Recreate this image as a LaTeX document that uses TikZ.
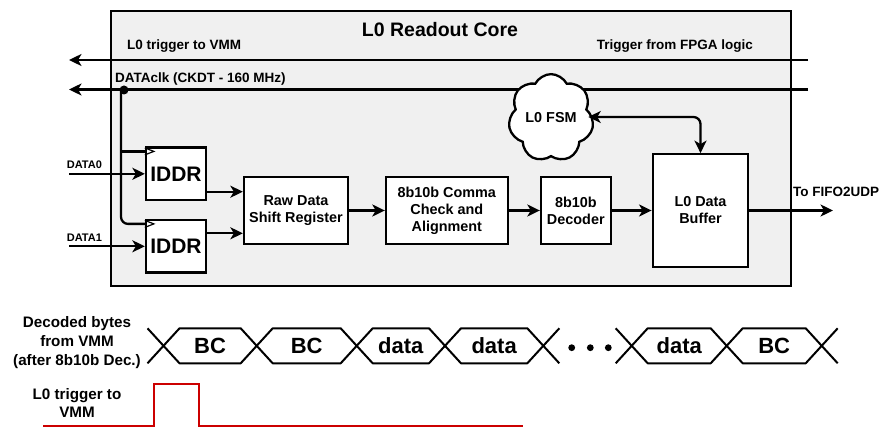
\documentclass[tikz,border=0pt]{standalone}
\usepackage{fontspec}
\setmainfont{Liberation Sans}
\usetikzlibrary{arrows.meta,shapes.symbols,calc}
\definecolor{corefill}{RGB}{240,240,240}
\definecolor{trigred}{RGB}{204,0,0}
\newcommand{\bsz}[2]{\fontsize{#1}{#2}\selectfont\bfseries}

\begin{document}
\begin{tikzpicture}[x=1pt,y=-1pt,
  wire/.style={line width=2.3pt},
  tip/.style={Stealth[length=12.5pt,width=12pt,inset=3.5pt]},
  arr/.style={wire,-{Stealth[length=12.5pt,width=12pt,inset=3.5pt]}},
  biarr/.style={wire,{Stealth[length=12.5pt,width=12pt,inset=3.5pt]}-{Stealth[length=12.5pt,width=12pt,inset=3.5pt]}},
  blk/.style={draw,line width=2.3pt,fill=white,inner sep=0pt,align=center,font=\bsz{14.4}{17}},
  lbl/.style={inner sep=0pt,font=\bsz{13.5}{16}},
  bus/.style={line width=2pt,line join=round},
  bustxt/.style={inner sep=0pt,font=\bsz{22}{24}},
]
\useasboundingbox (0,0) rectangle (882,427);

% ---------------- readout core frame ----------------
\draw[line width=2.3pt,fill=corefill] (111,11) rectangle (790.7,286);
\node[inner sep=0pt,font=\bsz{19.5}{22}] (title) at (440,29.5) {L0 Readout Core};

\node[lbl,anchor=west] (trigtxt) at (127,46.3) {L0 trigger to VMM};
\node[lbl,anchor=east] (fpgatxt) at (753,46.3) {Trigger from FPGA logic};
\node[lbl,anchor=west] (clktxt) at (115,79) {DATAclk (CKDT - 160 MHz)};

% trigger and clock lines leaving the core
\coordinate (trigIn) at (808,60);
\coordinate (trigOut) at (69,60);
\draw[arr] (trigIn) -- (trigOut);
\coordinate (clkIn) at (808,89.5);
\coordinate (clkOut) at (69,89.5);
\draw[arr] (clkIn) -- (clkOut);

% state machine
\node[cloud,draw,line width=2.3pt,fill=white,cloud puffs=7,cloud puff arc=125,
      aspect=0.95,minimum width=78pt,minimum height=83pt,inner sep=0pt,
      font=\bsz{14.4}{17}] (fsm) at (551,118) {L0 FSM};

% processing blocks
\node[blk,minimum width=60pt,minimum height=52.5pt,font=\bsz{21}{24}] (iddrA) at (176,173.8) {IDDR};
\node[blk,minimum width=60pt,minimum height=52.5pt,font=\bsz{21}{24}] (iddrB) at (176,246.3) {IDDR};
\node[blk,minimum width=104pt,minimum height=67pt] (shreg) at (296,210.5) {Raw Data\\Shift Register};
\node[blk,minimum width=121.7pt,minimum height=67pt] (comma) at (446.8,210.5) {8b10b Comma\\Check and\\Alignment};
\node[blk,minimum width=69.7pt,minimum height=67pt] (dec) at (575.8,210.5) {8b10b\\Decoder};
\node[blk,minimum width=95.6pt,minimum height=112.4pt] (buf) at (700.5,210.5) {L0 Data\\Buffer};

% clock distribution to the IDDRs
\coordinate (clkTap) at (121,89.5);
\coordinate (clkA) at ($(iddrA.north west)+(0,5)$);
\coordinate (clkB) at ($(iddrB.north west)+(0,5)$);
\draw[wire,rounded corners=7pt] (clkTap) |- (clkB);
\draw[wire] (clkTap |- clkA) -- (clkA);
\fill ($(clkTap)+(3,0.5)$) circle (4.5pt);
\foreach \n in {iddrA,iddrB}
  \draw[line width=1.2pt] ($(\n.north west)+(0,1.5)$) -- ++(9,3.5) -- ++(-9,3.5);

% serial data inputs
\coordinate (d0) at (69,173.8);
\coordinate (d1) at (69,246.3);
\draw[arr] (d0) -- (iddrA.west);
\draw[arr] (d1) -- (iddrB.west);
\node[anchor=west,inner sep=0pt,font=\bsz{11}{13}] (d0lbl) at (66.7,165) {DATA0};
\node[anchor=west,inner sep=0pt,font=\bsz{11}{13}] (d1lbl) at (66.7,238) {DATA1};

% data path
\coordinate (ya) at (0,191.7);
\coordinate (yb) at (0,233.3);
\draw[arr] (iddrA.east |- ya) -- (shreg.west |- ya);
\draw[arr] (iddrB.east |- yb) -- (shreg.west |- yb);
\draw[arr] (shreg) -- (comma);
\draw[arr] (comma) -- (dec);
\draw[arr] (dec) -- (buf);
\coordinate (fifo) at (833,210.5);
\draw[arr] (buf) -- (fifo);
\node[lbl,anchor=west] (fifolbl) at (793,192) {To FIFO2UDP};

% FSM <-> buffer control
\draw[biarr,rounded corners=7pt] ($(fsm.east)+(-5,-1)$) -| (buf.north);

% ---------------- timing diagram ----------------
\node[align=center,inner sep=0pt,font=\bsz{15.2}{19}] (buslbl) at (77,343) {Decoded bytes\\from VMM\\(after 8b10b Dec.)};
\node[align=center,inner sep=0pt,font=\bsz{15.2}{17.5}] (triglbl) at (77,403) {L0 trigger to\\VMM};

\foreach \a/\b/\t [count=\i] in {163.5/256.7/BC, 256.7/356.7/BC, 356.7/445/data,
                                  445/543.3/data, 631.7/726.7/data, 726.7/821.7/BC} {
  \draw[bus] (\a,345.8) -- ({\a+16},328.3) -- ({\b-16},328.3) -- (\b,345.8)
             -- ({\b-16},363.3) -- ({\a+16},363.3) -- cycle;
  \node[bustxt] (seg\i) at ({(\a+\b)/2},346) {\t};
}
% open ends of the bus crossings
\draw[bus] (163.5,345.8) -- (147.5,328.3) (163.5,345.8) -- (147.5,363.3);
\draw[bus] (543.3,345.8) -- (559.3,328.3) (543.3,345.8) -- (559.3,363.3);
\draw[bus] (631.7,345.8) -- (615.7,328.3) (631.7,345.8) -- (615.7,363.3);
\draw[bus] (821.7,345.8) -- (837.7,328.3) (821.7,345.8) -- (837.7,363.3);
\foreach \x in {571.7,590.3,608.3}
  \fill (\x,347.7) circle (3.4pt);

% trigger pulse
\draw[line width=2.2pt,trigred] (43,425.8) -- (154,425.8) -- (154,384.3)
  -- (199,384.3) -- (199,425.8) -- (523,425.8);
\end{tikzpicture}
\end{document}
